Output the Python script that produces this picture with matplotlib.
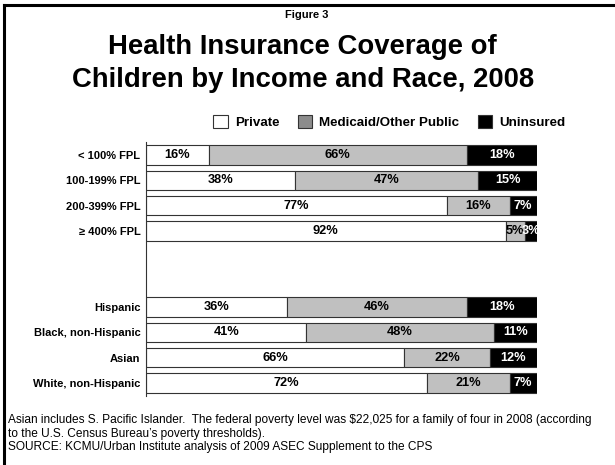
import matplotlib
matplotlib.use("Agg")
import matplotlib.pyplot as plt
from matplotlib.patches import Patch
from matplotlib.lines import Line2D

plt.rcParams['font.family'] = ['Liberation Sans', 'DejaVu Sans']

categories = ["< 100% FPL", "100-199% FPL", "200-399% FPL", "\u2265 400% FPL",
              "Hispanic", "Black, non-Hispanic", "Asian", "White, non-Hispanic"]
positions = [0, 1, 2, 3, 6, 7, 8, 9]
private = [16, 38, 77, 92, 36, 41, 66, 72]
medicaid = [66, 47, 16, 5, 46, 48, 22, 21]
uninsured = [18, 15, 7, 3, 18, 11, 12, 7]
series_names = ["Private", "Medicaid/Other Public", "Uninsured"]

fig = plt.figure(figsize=(6.15, 4.65), dpi=100)
ax = fig.add_axes([0.2374, 0.149, 0.873 - 0.2374, 0.694 - 0.149])

colors = ["white", "#c0c0c0", "black"]
text_colors = ["black", "black", "white"]
left = [0] * len(positions)
for vals, col, tcol in zip([private, medicaid, uninsured], colors, text_colors):
    bars = ax.barh(positions, vals, left=left, height=0.77, color=col,
                   edgecolor="#333333", linewidth=0.8)
    for b, v in zip(bars, vals):
        ax.text(b.get_x() + b.get_width() / 2, b.get_y() + b.get_height() / 2,
                f"{v}%", ha="center", va="center", fontsize=9.2,
                fontweight="bold", color=tcol)
    left = [l + v for l, v in zip(left, vals)]

ax.set_xlim(0, 100)
ax.set_ylim(9.5, -0.5)
ax.set_yticks(positions)
ax.set_yticklabels(categories, fontsize=8, fontweight="bold")
ax.set_xticks([])
ax.tick_params(axis="y", length=0, pad=4)
for s in ["top", "right", "bottom"]:
    ax.spines[s].set_visible(False)
ax.spines["left"].set_color("#333333")
ax.spines["left"].set_linewidth(0.8)

# titles
fig.text(0.498, 1 - 15 / 465, "Figure 3", ha="center", va="center",
         fontsize=8, fontweight="bold")
fig.text(0.492, 1 - 47 / 465, "Health Insurance Coverage of", ha="center",
         va="center", fontsize=19.8, fontweight="bold")
fig.text(0.492, 1 - 80 / 465, "Children by Income and Race, 2008", ha="center",
         va="center", fontsize=19.8, fontweight="bold")

# legend
handles = [Patch(facecolor="white", edgecolor="#333333", linewidth=0.8),
           Patch(facecolor="#8c8c8c", edgecolor="#333333", linewidth=0.8),
           Patch(facecolor="black", edgecolor="#333333", linewidth=0.8)]
leg = fig.legend(handles, series_names, loc="center", ncol=3,
                 bbox_to_anchor=(0.633, 1 - 122 / 465), frameon=False,
                 prop={"weight": "bold", "size": 9.6}, handlelength=1.1,
                 handleheight=1.1, columnspacing=1.4, handletextpad=0.5)

# footnotes
fig.text(8 / 615, 1 - 420 / 465,
         "Asian includes S. Pacific Islander.  The federal poverty level was $22,025 for a family of four in 2008 (according",
         ha="left", va="center", fontsize=8.6)
fig.text(8 / 615, 1 - 434 / 465,
         "to the U.S. Census Bureau\u2019s poverty thresholds).",
         ha="left", va="center", fontsize=8.6)
fig.text(8 / 615, 1 - 447 / 465,
         "SOURCE: KCMU/Urban Institute analysis of 2009 ASEC Supplement to the CPS",
         ha="left", va="center", fontsize=8.6)

# frame lines (top and left)
fig.add_artist(Line2D([4 / 615, 1.0], [1 - 5 / 465, 1 - 5 / 465],
                      transform=fig.transFigure, color="black", linewidth=2.2))
fig.add_artist(Line2D([4 / 615, 4 / 615], [1 - 5 / 465, 0.0],
                      transform=fig.transFigure, color="black", linewidth=2.2))

fig.savefig("out.png", dpi=100)
